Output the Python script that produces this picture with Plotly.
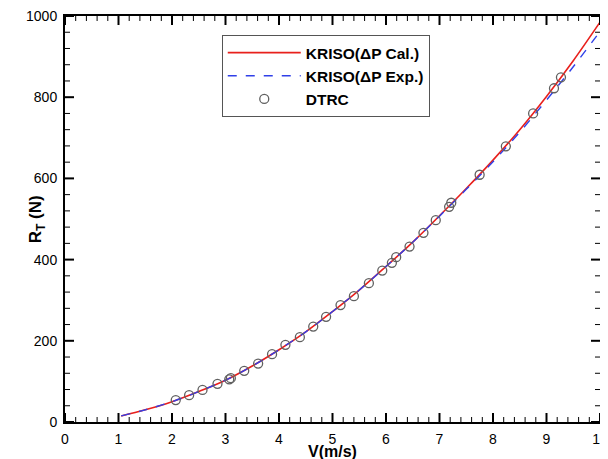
import plotly.graph_objects as go

# KRISO (ΔP Cal.) curve
v_cal = [1.05, 1.5, 2.0, 2.5, 3.0, 3.5, 4.0, 4.5, 5.0, 5.5, 6.0, 6.5, 7.0, 7.5, 8.0, 8.5, 9.0, 9.5, 10.0]
r_cal = [15, 30, 50, 75, 103, 138, 178, 222, 272, 325, 383, 443, 508, 575, 645, 720, 802, 890, 985]

# KRISO (ΔP Exp.) curve
v_exp = [1.05, 1.5, 2.0, 2.5, 3.0, 3.5, 4.0, 4.5, 5.0, 5.5, 6.0, 6.5, 7.0, 7.5, 8.0, 8.5, 9.0, 9.5, 10.0]
r_exp = [15, 30, 50, 75, 103, 138, 178, 222, 272, 325, 383, 443, 507, 573, 641, 714, 793, 875, 962]

# DTRC measurements
v_dtrc = [2.07, 2.32, 2.57, 2.85, 3.07, 3.10, 3.35, 3.61, 3.87, 4.12, 4.39, 4.64, 4.88, 5.15,
          5.40, 5.68, 5.93, 6.11, 6.19, 6.44, 6.70, 6.93, 7.18, 7.22, 7.75, 8.24, 8.75, 9.14, 9.27]
r_dtrc = [54, 66, 79, 94, 105, 108, 126, 144, 167, 190, 209, 235, 259, 288,
          310, 342, 373, 392, 406, 432, 466, 497, 530, 540, 609, 679, 760, 822, 849]

# tick values
x_major = [0, 1, 2, 3, 4, 5, 6, 7, 8, 9, 10]
y_major = [0, 200, 400, 600, 800, 1000]
x_minor = [round(i * 0.2, 1) for i in range(51) if i % 5 != 0]
y_minor = [i * 40 for i in range(26) if i % 5 != 0]

FONT = "Arial, Liberation Sans, sans-serif"

fig = go.Figure()
fig.add_trace(go.Scatter(x=v_cal, y=r_cal, mode="lines", name="KRISO(ΔP Cal.)",
                         line=dict(color="#e8201c", width=1.6, shape="spline")))
fig.add_trace(go.Scatter(x=v_exp, y=r_exp, mode="lines", name="KRISO(ΔP Exp.)",
                         line=dict(color="#3040e8", width=1.4, dash="dash", shape="spline")))
fig.add_trace(go.Scatter(x=v_dtrc, y=r_dtrc, mode="markers", name="DTRC",
                         marker=dict(symbol="circle-open", size=9, color="#606060",
                                     line=dict(width=1.3, color="#606060"))))

# inward tick marks on all four sides (drawn as pixel-sized shapes on the axes)
shapes = []
for vals, ln, w in ((x_major, 9, 2), (x_minor, 5, 1)):
    for v in vals:
        for anc, sgn in ((0, 1), (1, -1)):
            shapes.append(dict(type="line", xref="x", yref="paper", x0=v, x1=v,
                               ysizemode="pixel", yanchor=anc, y0=0, y1=sgn * ln,
                               line=dict(color="black", width=w), layer="above"))
for vals, ln, w in ((y_major, 9, 2), (y_minor, 5, 1)):
    for v in vals:
        for anc, sgn in ((0, 1), (1, -1)):
            shapes.append(dict(type="line", xref="paper", yref="y", y0=v, y1=v,
                               xsizemode="pixel", xanchor=anc, x0=0, x1=sgn * ln,
                               line=dict(color="black", width=w), layer="above"))

axis_common = dict(showgrid=False, zeroline=False, showline=True, linecolor="black",
                   linewidth=2, mirror=True, ticks="", automargin=False,
                   ticklabeloverflow="allow", ticklabelstandoff=3,
                   tickfont=dict(family=FONT, size=14, color="black"))

# page body has an 8px margin, so the figure is 600x451 and offset by 8px
fig.update_layout(
    width=600, height=451,
    margin=dict(l=57, r=8, t=8, b=37, autoexpand=False),
    paper_bgcolor="white", plot_bgcolor="white",
    showlegend=True,
    legend=dict(x=0.293, y=0.852, xanchor="left", yanchor="middle",
                bgcolor="white", bordercolor="#555555", borderwidth=1,
                font=dict(family=FONT, size=15.5, color="black", weight="bold"),
                itemwidth=73, tracegroupgap=0),
    xaxis=dict(range=[0, 10], tickvals=x_major, **axis_common),
    yaxis=dict(range=[0, 1000], tickvals=y_major, **axis_common),
    shapes=shapes,
    annotations=[
        dict(text="<b>V(m/s)</b>", xref="paper", yref="paper", x=0.5, y=-0.046,
             yanchor="top", showarrow=False,
             font=dict(family=FONT, size=16, color="black")),
        dict(text="<b>R<sub>T</sub> (N)</b>", xref="paper", yref="paper", x=-0.052, y=0.5,
             xanchor="center", yanchor="middle", textangle=-90, showarrow=False,
             font=dict(family=FONT, size=17, color="black")),
    ],
)

fig.write_html("out.html")
